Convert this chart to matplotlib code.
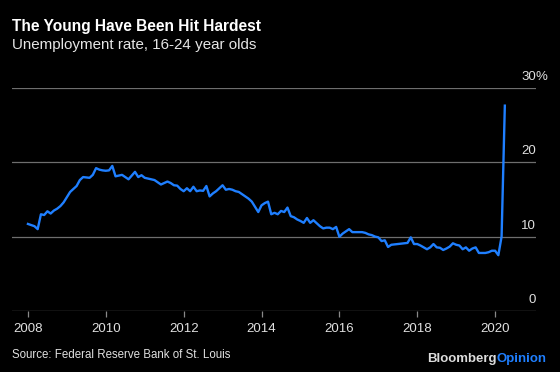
import numpy as np
import matplotlib
matplotlib.use('Agg')
import matplotlib.pyplot as plt
from matplotlib.transforms import blended_transform_factory

# Monthly unemployment rate, 16-24 year olds (%), Jan 2008 - Apr 2020
rate_2008 = [11.7, 11.55, 11.4, 11.0, 13.0, 12.9, 13.4, 13.1, 13.5, 13.75, 14.1, 14.6]
rate_2009 = [15.3, 16.0, 16.4, 16.8, 17.6, 18.0, 17.95, 17.9, 18.3, 19.2, 19.0, 18.9]
rate_2010 = [18.85, 18.9, 19.5, 18.1, 18.2, 18.3, 18.0, 17.7, 18.2, 18.7, 18.0, 18.25]
rate_2011 = [17.9, 17.8, 17.7, 17.6, 17.3, 17.0, 17.2, 17.4, 17.2, 16.9, 16.85, 16.4]
rate_2012 = [16.1, 16.5, 16.1, 16.7, 16.1, 16.2, 16.15, 16.8, 15.4, 15.8, 16.1, 16.5]
rate_2013 = [16.9, 16.3, 16.4, 16.3, 16.1, 16.0, 15.7, 15.4, 15.1, 14.7, 14.0, 13.3]
rate_2014 = [14.2, 14.5, 14.7, 13.0, 13.2, 13.0, 13.45, 13.3, 13.9, 12.75, 12.6, 12.3]
rate_2015 = [12.1, 11.85, 12.5, 11.85, 12.2, 11.8, 11.4, 11.1, 11.2, 11.2, 11.0, 11.3]
rate_2016 = [9.97, 10.4, 10.7, 11.0, 10.6, 10.6, 10.6, 10.6, 10.5, 10.3, 10.2, 10.0]
rate_2017 = [9.9, 9.4, 9.5, 8.6, 8.9, 8.95, 9.0, 9.05, 9.1, 9.15, 9.9, 9.0]
rate_2018 = [9.0, 8.8, 8.55, 8.3, 8.55, 9.0, 8.55, 8.5, 8.2, 8.4, 8.65, 9.1]
rate_2019 = [8.9, 8.8, 8.3, 8.55, 8.1, 8.4, 8.55, 7.8, 7.8, 7.8, 7.9, 8.1]
rate_2020 = [8.1, 7.5, 10.0, 27.6]

start_year = 2008
x_ticks = [2008, 2010, 2012, 2014, 2016, 2018, 2020]
y_ticks = [0, 10, 20, 30]
y_labels = ['0', '10', '20', '30']

rate = (rate_2008 + rate_2009 + rate_2010 + rate_2011 + rate_2012 + rate_2013 +
        rate_2014 + rate_2015 + rate_2016 + rate_2017 + rate_2018 + rate_2019 + rate_2020)
months = start_year + np.arange(len(rate)) / 12

plt.rcParams['font.family'] = ['Liberation Sans', 'DejaVu Sans']

fig = plt.figure(figsize=(5.6, 3.72), dpi=100, facecolor='black')
ax = fig.add_axes([0.0214, 0.164, 0.9357, 0.6])
ax.set_facecolor('black')

# gridlines
for y in y_ticks:
    ax.axhline(y, color='#8a8a8a' if y == 0 else '#6e6e6e', lw=0.9, zorder=1)

ax.plot(months, rate, color='#1f7fff', lw=1.7, zorder=3, solid_joinstyle='round')

ax.set_xlim(2007.59, 2021.05)
ax.set_ylim(0, 30)
for s in ax.spines.values():
    s.set_visible(False)
ax.set_yticks([])
ax.set_xticks(x_ticks)
ax.set_xticklabels([str(t) for t in x_ticks])
ax.tick_params(axis='x', colors='#8a8a8a', length=4, width=0.9, pad=5,
               labelsize=9.5, labelcolor='#e0e0e0')

# y labels above gridlines on the right
tr = blended_transform_factory(ax.transAxes, ax.transData)
for y, lab in zip(y_ticks, y_labels):
    ax.annotate(lab, xy=(1.0, y), xycoords=tr, xytext=(0, 3.5), textcoords='offset points',
                ha='right', va='bottom', color='#e0e0e0', fontsize=9.5)
ax.annotate('%', xy=(1.0, 30), xycoords=tr, xytext=(0, 3.5), textcoords='offset points',
            ha='left', va='bottom', color='#e0e0e0', fontsize=9.5)

fig.text(0.022, 0.93, 'The Young Have Been Hit Hardest', color='white',
         fontsize=11.2, fontweight='bold', va='center', ha='left')
fig.text(0.022, 0.88, 'Unemployment rate, 16-24 year olds', color='#e6e6e6',
         fontsize=10.9, va='center', ha='left')
fig.text(0.022, 0.045, 'Source: Federal Reserve Bank of St. Louis', color='#e0e0e0',
         fontsize=8.3, va='center', ha='left')

t1 = fig.text(0.762, 0.035, 'Bloomberg', color='#dcdcdc', fontsize=9.5,
              fontweight='bold', va='center', ha='left')
fig.canvas.draw()
bb = t1.get_window_extent()
fig.text(bb.x1 / fig.bbox.width, 0.035, 'Opinion', color='#1f7fff', fontsize=9.5,
         fontweight='bold', va='center', ha='left')

plt.savefig('out.png', dpi=100, facecolor='black')
